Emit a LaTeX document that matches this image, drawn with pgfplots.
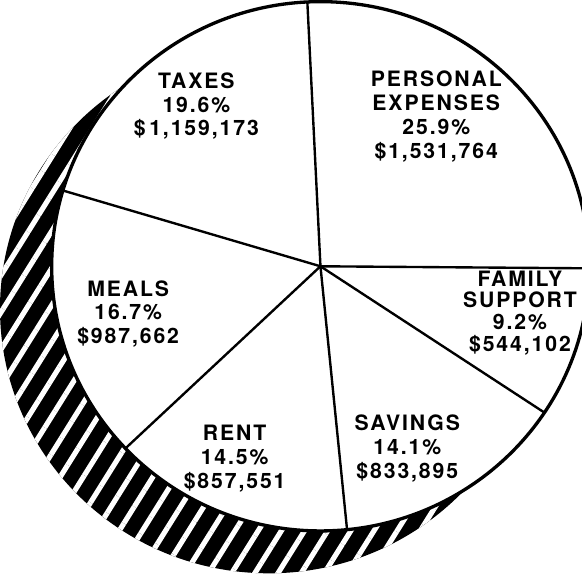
\documentclass[border=0pt]{standalone}
\usepackage{pgfplots}
\pgfplotsset{compat=1.18}
\usepackage{pgfplotstable}
\usepackage{fontspec}
\setmainfont{TeX Gyre Heros}[LetterSpace=9]
\usetikzlibrary{patterns.meta}

\pgfplotstableread{
label pct amount
Personal 25.9 1531764
Family 9.2 544102
Savings 14.1 833895
Rent 14.5 857551
Meals 16.7 987662
Taxes 19.6 1159173
}\piedata
\pgfplotstablecreatecol[create col/expr accum={\pgfmathaccuma+\thisrow{pct}}{0}]{cum}{\piedata}

\begin{document}
\begin{tikzpicture}
\begin{axis}[scale only axis, width=582pt, height=572pt,
  xmin=0, xmax=582, ymin=0, ymax=572, hide axis, clip=true]
% shadow (hatched crescent)
\fill[black] (axis cs:279,262) ellipse [x radius=260, y radius=256];
\fill[pattern={Lines[angle=58,distance=19pt,line width=5pt]}, pattern color=white]
  (axis cs:279,262) ellipse [x radius=260, y radius=256];
% pie disc
\filldraw[fill=white, draw=black, line width=3.2pt] (axis cs:329,303) ellipse [x radius=260, y radius=256];
% slice boundaries from the data
\addplot[draw=black, line width=2.3pt, -, mark=none,
  quiver={u={260*cos(92.8-3.6*\thisrow{cum})}, v={256*sin(92.8-3.6*\thisrow{cum})}}]
  table[x expr=329, y expr=303] {\piedata};
% labels
\tikzset{lbl/.style={align=center, font=\bfseries\fontsize{20.5}{23}\selectfont}}
\node[lbl] at (axis cs:209,458) {TAXES\\19.6\%\\\$\,1,159,173};
\node[lbl] at (axis cs:441,448) {PERSONAL\\EXPENSES\\25.9\%\\\$1,531,764};
\node[lbl, font=\bfseries\fontsize{20.5}{21}\selectfont] at (axis cs:522,258) {FAMILY\\SUPPORT\\9.2\%\\\$544,102};
\node[lbl] at (axis cs:413,127) {SAVINGS\\14.1\%\\\$833,895};
\node[lbl] at (axis cs:246,117) {RENT\\14.5\%\\\$857,551};
\node[lbl] at (axis cs:143,257) {MEALS\\16.7\%\\\$987,662};
\end{axis}
\end{tikzpicture}
\end{document}
